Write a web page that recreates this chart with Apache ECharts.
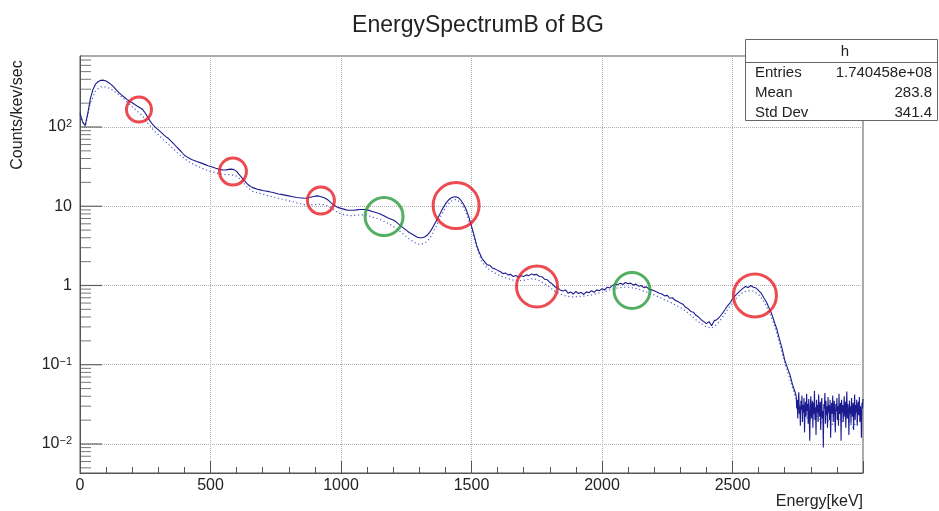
<!DOCTYPE html>
<html><head><meta charset="utf-8">
<script src="https://cdn.jsdelivr.net/npm/echarts@6/dist/echarts.min.js"></script>
<style>html,body{margin:0;padding:0;background:#fff}#c{width:939px;height:511px}</style>
</head><body><div id="c"></div>
<script>
const chartTitle = 'EnergySpectrumB of BG';
const xAxisTitle = 'Energy[keV]';
const yAxisTitle = 'Counts/kev/sec';

// x axis range (keV) and y axis range (counts/keV/s)
const xMin = 0, xMax = 3000, xMajor = 500;
const yMin = 0.0043, yMax = 787;

// main spectrum (solid), bins every 10 keV from 0 to 2740 keV
const mainStartKeV = 0, mainStepKeV = 10;
const mainCounts = [
  150,115,105,150,230,300,350,375,388,390,
  380,362,343,318,292,270,252,237,223,211,
  202,192,183,175,166,150,132,117,106,98,
  92,86,80,75,71,66,61,56,52,48,
  44,42,40,38.5,37.5,36.5,35.5,34.5,33.5,32.5,
  31.8,31,30.2,29.5,29,28.7,28.8,29.2,29.4,29,
  27.5,25,23,21,19.3,18,17.3,16.8,16.4,16.1,
  15.8,15.6,15.4,15.1,14.9,14.6,14.3,14.1,13.9,13.7,
  13.5,13.3,13.1,12.9,12.8,12.7,12.6,12.7,12.9,13.2,
  13.4,13.5,13.3,13.0,12.6,12.0,11.2,10.5,10.0,9.6,
  9.4,9.2,9.0,8.9,8.9,8.9,9.0,9.1,9.1,9.1,
  9.0,8.8,8.6,8.4,8.2,8.0,7.7,7.4,7.1,6.9,
  6.7,6.4,6.0,5.6,5.3,5.0,4.7,4.5,4.3,4.1,
  4.0,4.0,4.1,4.3,4.7,5.3,6.1,7.0,8.1,9.4,
  10.7,11.8,12.6,13.1,13.2,12.8,11.8,10.5,9.0,7.3,
  5.6,4.3,3.2,2.6,2.2,2.0,1.82,1.80,1.66,1.62,
  1.55,1.50,1.41,1.44,1.36,1.38,1.30,1.34,1.27,1.33,
  1.30,1.36,1.33,1.40,1.36,1.38,1.30,1.29,1.20,1.18,
  1.10,1.04,0.96,0.93,0.88,0.85,0.88,0.80,0.83,0.78,
  0.84,0.79,0.82,0.77,0.83,0.81,0.86,0.82,0.88,0.86,
  0.91,0.88,0.95,0.93,1.00,1.04,1.02,1.07,1.03,1.09,
  1.05,1.07,1.01,1.04,0.98,1.00,0.94,0.96,0.90,0.88,
  0.86,0.83,0.80,0.78,0.74,0.75,0.69,0.70,0.65,0.63,
  0.60,0.58,0.53,0.51,0.47,0.46,0.42,0.40,0.37,0.35,
  0.33,0.35,0.31,0.36,0.37,0.40,0.44,0.49,0.55,0.60,
  0.68,0.74,0.80,0.86,0.92,0.97,0.94,1.00,0.95,0.93,
  0.86,0.80,0.70,0.62,0.52,0.44,0.35,0.28,0.21,0.16,
  0.115,0.092,0.075,0.056,0.045
];

// noisy high-energy tail (solid), bins every 2 keV from 2744 to 3000 keV
const tailStartKeV = 2744, tailStepKeV = 2;
const tailCounts = [
  0.040,0.028,0.036,0.021,0.033,0.045,0.024,0.030,0.017,0.035,
  0.027,0.041,0.019,0.031,0.025,0.038,0.014,0.029,0.034,0.022,
  0.043,0.026,0.032,0.018,0.037,0.023,0.011,0.030,0.040,0.021,
  0.028,0.035,0.016,0.033,0.024,0.047,0.020,0.029,0.013,0.036,
  0.025,0.031,0.019,0.042,0.027,0.022,0.034,0.015,0.030,0.038,
  0.021,0.026,0.009,0.032,0.028,0.044,0.018,0.035,0.023,0.030,
  0.016,0.039,0.025,0.031,0.020,0.036,0.012,0.027,0.033,0.024,
  0.041,0.019,0.029,0.035,0.022,0.014,0.032,0.026,0.038,0.020,
  0.030,0.017,0.043,0.024,0.028,0.033,0.011,0.036,0.025,0.031,
  0.019,0.027,0.040,0.022,0.034,0.016,0.029,0.046,0.021,0.032,
  0.026,0.013,0.035,0.024,0.030,0.018,0.038,0.027,0.022,0.033,
  0.015,0.029,0.042,0.020,0.031,0.025,0.036,0.017,0.028,0.034,
  0.023,0.039,0.019,0.030,0.026,0.012,0.033,0.028,0.037
];

// second spectrum (dotted), bins every 20 keV from 0 to 3000 keV
const refStartKeV = 0, refStepKeV = 20;
const refCounts = [
  140,100,200,290,322,320,300,270,240,208,
  180,158,138,112,92,80,69,60,52,45,
  40,36,33,31,29,27.5,26.5,25.5,25,25,
  24,21,17.5,15.5,14.8,14.2,13.6,13.1,12.6,12.2,
  11.7,11.3,10.8,10.5,10.4,10.5,10.6,10.4,9.6,8.6,
  8.0,7.7,7.6,7.7,7.8,7.7,7.3,7.0,6.6,6.1,
  5.6,5.0,4.4,3.9,3.5,3.3,3.4,3.9,5.2,7.2,
  9.6,11.5,12.2,11.0,8.3,5.2,3.0,2.0,1.65,1.5,
  1.38,1.28,1.22,1.17,1.15,1.16,1.2,1.22,1.15,1.05,
  0.95,0.84,0.78,0.74,0.72,0.72,0.73,0.74,0.76,0.79,
  0.82,0.86,0.9,0.93,0.95,0.95,0.93,0.9,0.85,0.8,
  0.76,0.71,0.66,0.62,0.57,0.53,0.48,0.42,0.37,0.33,
  0.3,0.29,0.32,0.39,0.49,0.61,0.72,0.82,0.86,0.85,
  0.77,0.63,0.47,0.32,0.19,0.105,0.066,0.04,0.028,0.022,
  0.02,0.024,0.018,0.021,0.017,0.023,0.019,0.022,0.016,0.02,
  0.021
];

// annotation circles (data coordinates)
const markEnergy = [226, 586, 923, 1165, 1441, 1751, 2115, 2586];
const markCounts = [166, 27.4, 11.8, 7.4, 10.2, 0.97, 0.865, 0.75];
const markKind   = ['red','red','red','green','red','red','green','red'];

// stats box
const statsHeader = 'h';
const statsNames  = ['Entries', 'Mean', 'Std Dev'];
const statsValues = ['1.740458e+08', '283.8', '341.4'];

// y-axis decade tick values
const yDecades = [0.01, 0.1, 1, 10, 100];

// ---- styles ----
const markDiameter = [25, 27, 27, 38, 46, 41, 36, 43];
const markColor = { red: '#e61e26', green: '#2b9b3c' };
const FONT = '"Liberation Sans", Arial, Helvetica, sans-serif';

const solidData = mainCounts.map((v, i) => [mainStartKeV + i * mainStepKeV, v])
  .concat(tailCounts.map((v, i) => [tailStartKeV + i * tailStepKeV, v]));
const refData = refCounts.map((v, i) => [refStartKeV + i * refStepKeV, v]);
const markData = markEnergy.map((e, i) => ({
  value: [e, markCounts[i]],
  symbolSize: markDiameter[i],
  itemStyle: { color: 'rgba(0,0,0,0)', borderColor: markColor[markKind[i]], borderWidth: 3 }
}));
// log minor tick positions (2..9 x 10^n)
const yMinorTicks = [];
for (let e = -3; e <= 2; e++) for (let m = 2; m <= 9; m++) {
  const v = m * Math.pow(10, e);
  if (v > yMin && v < yMax) yMinorTicks.push([xMin, v]);
}
const yMajorTicks = yDecades.map(v => [xMin, v]);

const supMap = { '-2': ['10', '−2'], '-1': ['10', '−1'], '0': ['1', ''], '1': ['10', ''], '2': ['10', '2'] };

const chart = echarts.init(document.getElementById('c'), null, { renderer: 'canvas' });
chart.setOption({
  animation: false,
  backgroundColor: '#fff',
  textStyle: { fontFamily: FONT },
  title: {
    text: chartTitle, left: 473, top: 9, textAlign: 'center',
    textStyle: { fontSize: 23, fontWeight: 'normal', color: '#222', fontFamily: FONT }
  },
  grid: { left: 80, right: 76, top: 56, bottom: 38, show: true, borderColor: '#555', borderWidth: 1, backgroundColor: 'transparent' },
  xAxis: {
    type: 'value', min: xMin, max: xMax, interval: xMajor,
    axisLine: { show: true, lineStyle: { color: '#555' } },
    axisTick: { show: true, inside: true, length: 12, lineStyle: { color: '#555' } },
    minorTick: { show: true, splitNumber: 5, length: 6, lineStyle: { color: '#555' } },
    axisLabel: { fontSize: 16, color: '#222', margin: 5, showMaxLabel: false, fontFamily: FONT,
      formatter: function (v) { return String(v); } },
    splitLine: { show: true, lineStyle: { type: 'dotted', color: '#b0b0b0' } }
  },
  yAxis: {
    type: 'log', logBase: 10, min: yMin, max: yMax,
    axisLine: { show: true, lineStyle: { color: '#555' } },
    axisTick: { show: false },
    axisLabel: {
      fontSize: 16, color: '#222', margin: 8, showMinLabel: false, showMaxLabel: false, fontFamily: FONT,
      formatter: function (val) {
        const l = Math.log10(val), r = Math.round(l);
        if (Math.abs(l - r) > 1e-6) return '';
        const p = supMap[String(r)];
        if (!p) return '';
        return p[1] ? '{b|' + p[0] + '}{s|' + p[1] + '}' : '{b|' + p[0] + '}';
      },
      rich: {
        b: { fontSize: 16, color: '#222', fontFamily: FONT },
        s: { fontSize: 11, color: '#222', fontFamily: FONT, verticalAlign: 'top', padding: [0, 0, 6, 0] }
      }
    },
    splitLine: { show: true, lineStyle: { type: 'dotted', color: '#b0b0b0' } }
  },
  series: [
    {
      type: 'line', data: refData, showSymbol: false, symbol: 'none', z: 2,
      lineStyle: { color: '#4f5fc6', width: 1.2, type: [1.2, 2.6] }
    },
    {
      type: 'line', data: solidData, showSymbol: false, symbol: 'none', z: 3, sampling: null,
      lineStyle: { color: '#1b1b8f', width: 1.1 }
    },
    {
      type: 'scatter', data: yMinorTicks, symbol: 'rect', symbolSize: [11, 1], symbolOffset: [5.5, 0],
      itemStyle: { color: '#555' }, clip: false, silent: true, z: 4
    },
    {
      type: 'scatter', data: yMajorTicks, symbol: 'rect', symbolSize: [22, 1.2], symbolOffset: [11, 0],
      itemStyle: { color: '#444' }, clip: false, silent: true, z: 4
    },
    {
      type: 'scatter', data: markData, symbol: 'circle', clip: false, silent: true, z: 5
    }
  ],
  graphic: [
    { type: 'text', rotation: Math.PI / 2, x: 18, y: 115,
      style: { text: yAxisTitle, fontSize: 16, fill: '#222', font: '16px ' + FONT, textAlign: 'center', textVerticalAlign: 'middle' } },
    { type: 'text', x: 863, y: 502,
      style: { text: xAxisTitle, fontSize: 16, fill: '#222', font: '16px ' + FONT, textAlign: 'right', textVerticalAlign: 'middle' } },
    { type: 'rect', shape: { x: 745.5, y: 39.5, width: 192, height: 81 }, style: { fill: '#fff', stroke: '#666', lineWidth: 1 }, z: 100 },
    { type: 'line', shape: { x1: 745.5, y1: 62.5, x2: 937.5, y2: 62.5 }, style: { stroke: '#666', lineWidth: 1 }, z: 101 },
    { type: 'text', x: 845, y: 52, z: 102,
      style: { text: statsHeader, font: '15px ' + FONT, fill: '#222', textAlign: 'center', textVerticalAlign: 'middle' } },
    ...statsNames.map((n, i) => ({ type: 'text', x: 755, y: 73 + i * 20, z: 102,
      style: { text: n, font: '15px ' + FONT, fill: '#222', textAlign: 'left', textVerticalAlign: 'middle' } })),
    ...statsValues.map((n, i) => ({ type: 'text', x: 932, y: 73 + i * 20, z: 102,
      style: { text: n, font: '15px ' + FONT, fill: '#222', textAlign: 'right', textVerticalAlign: 'middle' } }))
  ]
});
</script></body></html>
